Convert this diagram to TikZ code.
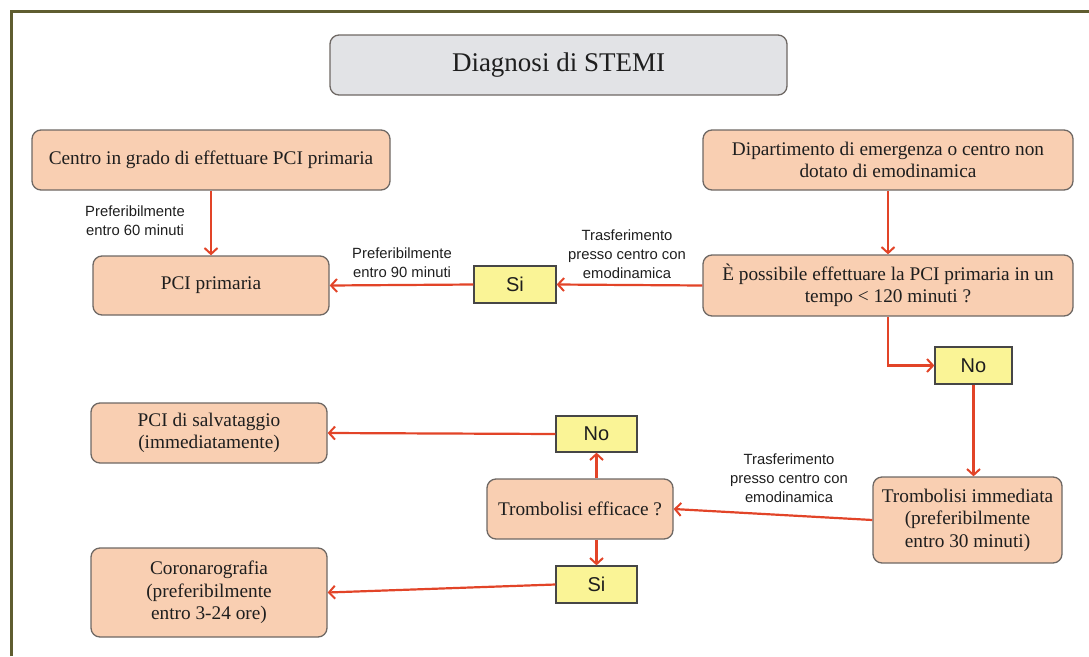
\documentclass[tikz,border=0pt]{standalone}
\usepackage{fontspec}
\setmainfont{Liberation Serif}
\newfontfamily\labelfont{Liberation Sans}
\usetikzlibrary{arrows.meta}
\definecolor{peach}{RGB}{249,207,178}
\definecolor{boxline}{RGB}{110,104,100}
\definecolor{titlefill}{RGB}{226,227,230}
\definecolor{answerfill}{RGB}{250,244,150}
\definecolor{answerline}{RGB}{70,70,70}
\definecolor{flow}{RGB}{226,68,40}
\definecolor{framec}{RGB}{95,93,48}
\definecolor{ink}{RGB}{30,30,30}
\tikzset{
  box/.style={draw=boxline, line width=1.3pt, fill=peach, rounded corners=9pt,
    align=center, inner sep=0pt, text=ink, font=\fontsize{19.3}{22.5}\selectfont},
  titlebox/.style={box, fill=titlefill, font=\fontsize{27}{30}\selectfont},
  answer/.style={draw=answerline, line width=1.3pt, fill=answerfill, inner sep=0pt,
    text=ink, font=\labelfont\fontsize{20}{22}\selectfont},
  lbl/.style={align=center, inner sep=0pt, text=ink, font=\labelfont\fontsize{14.8}{19}\selectfont},
  arr/.style={draw=flow, line width=2.2pt,
    -{Straight Barb[length=6pt,width=13pt,line width=2pt]}},
  framestyle/.style={draw=framec, line width=3pt}
}
\begin{document}
\begin{tikzpicture}[x=1pt,y=-1pt]
\useasboundingbox (0,0) rectangle (1089,656);
% outer frame (top and left edges)
\draw[framestyle] (11.5,656) -- (11.5,11.5) -- (1089,11.5);

% boxes
\node[titlebox, minimum width=457pt, minimum height=60pt] (title) at (558.5,65) {Diagnosi di STEMI};
\node[box, minimum width=358pt, minimum height=60pt] (centro) at (211,160) {Centro in grado di effettuare PCI primaria};
\node[box, minimum width=370pt, minimum height=60pt] (dip) at (888,160) {Dipartimento di emergenza o centro non\\dotato di emodinamica};
\node[box, minimum width=236pt, minimum height=59pt] (pcip) at (211,285.5) {PCI primaria};
\node[answer, minimum width=82pt, minimum height=37pt] (si1) at (515,284.5) {Si};
\node[box, minimum width=370pt, minimum height=61pt] (poss) at (888,285.5) {È possibile effettuare la PCI primaria in un\\tempo < 120 minuti ?};
\node[answer, minimum width=77pt, minimum height=37pt] (no1) at (973.5,365.5) {No};
\node[box, minimum width=236pt, minimum height=60pt] (salv) at (209,433) {PCI di salvataggio\\(immediatamente)};
\node[answer, minimum width=81pt, minimum height=36pt] (no2) at (596.5,434) {No};
\node[box, minimum width=186pt, minimum height=60pt] (teff) at (580,509) {Trombolisi efficace ?};
\node[box, minimum width=189pt, minimum height=86pt] (timm) at (967.5,520) {Trombolisi immediata\\(preferibilmente\\entro 30 minuti)};
\node[answer, minimum width=81pt, minimum height=37pt] (si2) at (596.5,584.5) {Si};
\node[box, minimum width=236pt, minimum height=89pt] (coro) at (209,592.5) {Coronarografia\\(preferibilmente\\entro 3-24 ore)};

% connector labels
\node[lbl] (l60) at (135,221) {Preferibilmente\\entro 60 minuti};
\node[lbl] (l90) at (402,263) {Preferibilmente\\entro 90 minuti};
\node[lbl] (ltr1) at (627,254) {Trasferimento\\presso centro con\\emodinamica};
\node[lbl] (ltr2) at (789,478) {Trasferimento\\presso centro con\\emodinamica};

% connectors
\draw[arr] (centro.south) -- (pcip.north);
\draw[arr] (dip.south) -- (poss.north);
\draw[arr] (poss.west) -- (si1.east);
\draw[arr] (si1.west) -- (pcip.east);
\draw[arr] (poss.south) |- (no1.west);
\draw[arr] (no1.south) -- (no1.south |- timm.north);
\draw[arr] (timm.west) -- (teff.east);
\draw[arr] (teff.north -| no2.south) -- (no2.south);
\draw[arr] (teff.south -| si2.north) -- (si2.north);
\draw[arr] (no2.west) -- (salv.east);
\draw[arr] (si2.west) -- (coro.east);
\end{tikzpicture}
\end{document}
